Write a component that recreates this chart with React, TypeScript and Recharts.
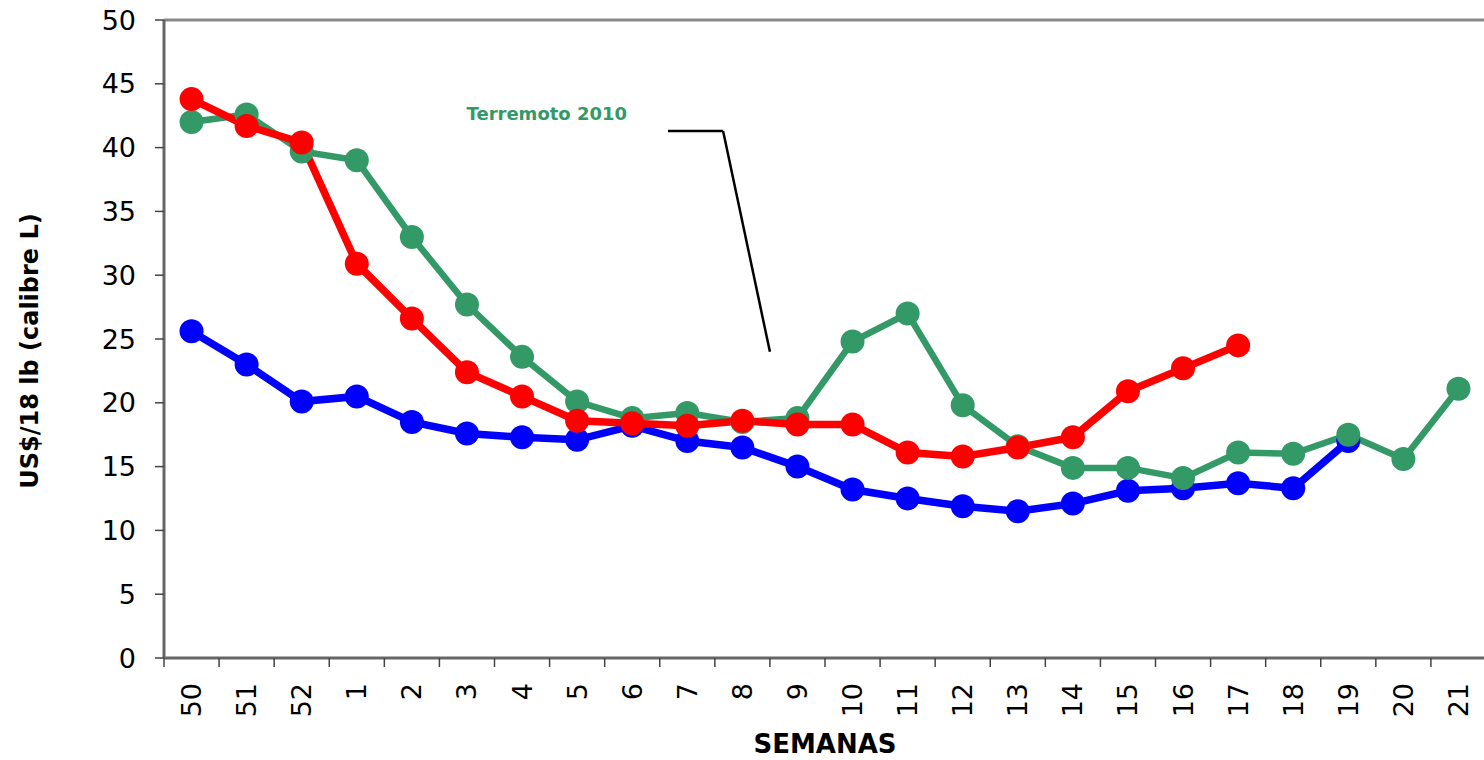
import { Line, LineChart, ReferenceDot, ReferenceLine, XAxis, YAxis } from "recharts";

const weeks = ["50", "51", "52", "1", "2", "3", "4", "5", "6", "7", "8", "9", "10", "11", "12", "13", "14", "15", "16", "17", "18", "19", "20", "21"];

// 2008/09
const blueValues = [25.6, 23.0, 20.1, 20.5, 18.5, 17.6, 17.3, 17.1, 18.2, 17.0, 16.5, 15.0, 13.2, 12.5, 11.9, 11.5, 12.1, 13.1, 13.3, 13.7, 13.3, 17.0, null, null];
// 2009/10 (terremoto)
const greenValues = [42.0, 42.6, 39.7, 39.0, 33.0, 27.7, 23.6, 20.1, 18.8, 19.2, 18.5, 18.8, 24.8, 27.0, 19.8, 16.6, 14.9, 14.9, 14.1, 16.1, 16.0, 17.5, 15.6, 21.1];
// 2010/11
const redValues = [43.8, 41.7, 40.4, 30.9, 26.6, 22.4, 20.5, 18.6, 18.4, 18.2, 18.6, 18.3, 18.3, 16.1, 15.8, 16.5, 17.3, 20.9, 22.7, 24.5, null, null, null, null];

const yTicks = [0, 5, 10, 15, 20, 25, 30, 35, 40, 45, 50];

// annotation callout (week index units, US$)
const calloutLine = [
	{ x: 9.15, y: 41.3 },
	{ x: 10.15, y: 41.3 },
	{ x: 11.0, y: 24.0 },
];
const calloutText = { x: 6.95, y: 42.7, text: "Terremoto 2010" };

const data = weeks.map((w, i) => ({
	pos: i + 0.5,
	week: w,
	blue: blueValues[i],
	green: greenValues[i],
	red: redValues[i],
}));

const boundaryTicks = weeks.map((_, i) => i).concat([weeks.length]);
const centerTicks = weeks.map((_, i) => i + 0.5);

const FONT = "'DejaVu Sans', sans-serif";

function WeekTick(props: any) {
	const { x, y, payload } = props;
	const label = weeks[Math.floor(payload.value)];
	return (
		<text
			transform={`translate(${x},${y + 5}) rotate(-90)`}
			textAnchor="end"
			dominantBaseline="central"
			fontFamily={FONT}
			fontSize={27}
			fill="#000"
		>
			{label}
		</text>
	);
}

function YTitle(props: any) {
	const vb = props.viewBox;
	const cx = 30;
	const cy = vb.y + vb.height / 2 + 12;
	return (
		<text
			transform={`translate(${cx},${cy}) rotate(-90)`}
			textAnchor="middle"
			dominantBaseline="central"
			fontFamily={FONT}
			fontWeight="bold"
			fontSize={24}
			fill="#000"
		>
			US$/18 lb (calibre L)
		</text>
	);
}

export default function App() {
	return (
		<div style={{ position: "fixed", left: 0, top: 0, width: 1484, height: 760, overflow: "hidden", background: "#fff" }}>
			<LineChart width={1490} height={760} data={data} margin={{ top: 20, right: 4, left: 0, bottom: 0 }}>
				<XAxis
					xAxisId="grid"
					type="number"
					dataKey="pos"
					domain={[0, weeks.length]}
					ticks={boundaryTicks}
					interval={0}
					tickFormatter={() => ""}
					tickSize={9}
					height={12}
					stroke="#555"
					axisLine={{ stroke: "#666", strokeWidth: 3 }}
					tickLine={{ stroke: "#444", strokeWidth: 1.5 }}
				/>
				<XAxis
					xAxisId="weeks"
					type="number"
					dataKey="pos"
					domain={[0, weeks.length]}
					ticks={centerTicks}
					interval={0}
					tick={<WeekTick />}
					tickLine={false}
					axisLine={false}
					height={90}
					label={{
						value: "SEMANAS",
						position: "insideBottom",
						offset: 7,
						fontFamily: FONT,
						fontWeight: "bold",
						fontSize: 26,
						fill: "#000",
					}}
				/>
				<YAxis
					type="number"
					domain={[0, 50]}
					ticks={yTicks}
					interval={0}
					width={164}
					tickSize={9}
					tickMargin={19}
					tick={{ fontFamily: FONT, fontSize: 27, fill: "#000" }}
					axisLine={{ stroke: "#666", strokeWidth: 3 }}
					tickLine={{ stroke: "#444", strokeWidth: 1.5 }}
					label={<YTitle />}
				/>
				<ReferenceLine xAxisId="weeks" y={50} stroke="#888" strokeWidth={3} />
				<ReferenceLine
					xAxisId="weeks"
					segment={[calloutLine[0], calloutLine[1]]}
					stroke="#000"
					strokeWidth={2.5}
				/>
				<ReferenceLine
					xAxisId="weeks"
					segment={[calloutLine[1], calloutLine[2]]}
					stroke="#000"
					strokeWidth={2.5}
				/>
				<ReferenceDot
					xAxisId="weeks"
					x={calloutText.x}
					y={calloutText.y}
					r={0}
					stroke="none"
					fill="none"
					label={{
						value: calloutText.text,
						position: "center",
						fontFamily: FONT,
						fontWeight: "bold",
						fontSize: 18,
						fill: "#339966",
					}}
				/>
				<Line
					xAxisId="weeks"
					type="linear"
					dataKey="blue"
					name="2008/09"
					stroke="#0000FF"
					strokeWidth={7.5}
					dot={{ r: 12, fill: "#0000FF", stroke: "none" }}
					activeDot={false}
					isAnimationActive={false}
				/>
				<Line
					xAxisId="weeks"
					type="linear"
					dataKey="green"
					name="2009/10"
					stroke="#339966"
					strokeWidth={6.5}
					dot={{ r: 12, fill: "#339966", stroke: "none" }}
					activeDot={false}
					isAnimationActive={false}
				/>
				<Line
					xAxisId="weeks"
					type="linear"
					dataKey="red"
					name="2010/11"
					stroke="#FF0000"
					strokeWidth={7.5}
					dot={{ r: 12, fill: "#FF0000", stroke: "none" }}
					activeDot={false}
					isAnimationActive={false}
				/>
			</LineChart>
		</div>
	);
}
